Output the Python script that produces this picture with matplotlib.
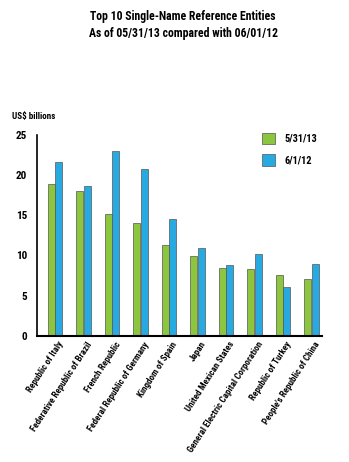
import numpy as np
import matplotlib
matplotlib.use("Agg")
import matplotlib.pyplot as plt
from matplotlib.patches import Patch

entities = ["Republic of Italy", "Federative Republic of Brazil", "French Republic",
            "Federal Republic of Germany", "Kingdom of Spain", "Japan",
            "United Mexican States", "General Electric Capital Corporation",
            "Republic of Turkey", "People's Republic of China"]
vals_2013 = [18.9, 18.0, 15.2, 14.1, 11.3, 9.9, 8.5, 8.3, 7.6, 7.1]
vals_2012 = [21.6, 18.6, 23.0, 20.8, 14.5, 10.9, 8.8, 10.2, 6.1, 8.9]
series_labels = ["5/31/13", "6/1/12"]
yticks = [0, 5, 10, 15, 20, 25]

plt.rcParams['font.family'] = ['Roboto Condensed', 'Liberation Sans Narrow',
                               'Open Sans Condensed', 'Liberation Sans']
green = "#8cc63f"
blue = "#27aae1"

fig = plt.figure(figsize=(3.49, 4.62), dpi=100)
ax = fig.add_axes([0.106, 0.273, 0.817, 0.435])

x = np.arange(len(entities))
w = 0.25
ax.bar(x - w/2 - 0.01, vals_2013, w, color=green, edgecolor="#555555", linewidth=0.5)
ax.bar(x + w/2 + 0.01, vals_2012, w, color=blue, edgecolor="#555555", linewidth=0.5)

ax.set_xlim(-0.63, 9.37)
ax.set_ylim(0, 25)
ax.set_yticks(yticks)
ax.tick_params(axis='y', length=0, labelsize=8, pad=7)
ax.tick_params(axis='x', length=0, labelsize=6.5, pad=3)
ax.set_xticks(x + 0.1)
ax.set_xticklabels(entities, rotation=57, ha='right', rotation_mode='anchor',
                   fontweight='bold')
for lab in ax.get_yticklabels():
    lab.set_fontweight('bold')
for s in ["top", "right"]:
    ax.spines[s].set_visible(False)
ax.spines["left"].set_linewidth(1.2)
ax.spines["bottom"].set_linewidth(1.5)

fig.text(0.525, 0.965, "Top 10 Single-Name Reference Entities", ha='center',
         va='center', fontsize=8.5, fontweight='bold')
fig.text(0.525, 0.927, "As of 05/31/13 compared with 06/01/12", ha='center',
         va='center', fontsize=8.5, fontweight='bold')
fig.text(0.035, 0.748, "US$ billions", ha='left', va='center', fontsize=6.5,
         fontweight='bold')

handles = [Patch(facecolor=green, edgecolor="#555555", linewidth=0.5),
           Patch(facecolor=blue, edgecolor="#555555", linewidth=0.5)]
leg = fig.legend(handles, series_labels, loc='upper left',
                 bbox_to_anchor=(0.725, 0.733), frameon=False, fontsize=7.5,
                 handlelength=1.25, handleheight=1.3, labelspacing=1.0,
                 handletextpad=0.85)
for t in leg.get_texts():
    t.set_fontweight('bold')

fig.savefig("out.png", dpi=100)
